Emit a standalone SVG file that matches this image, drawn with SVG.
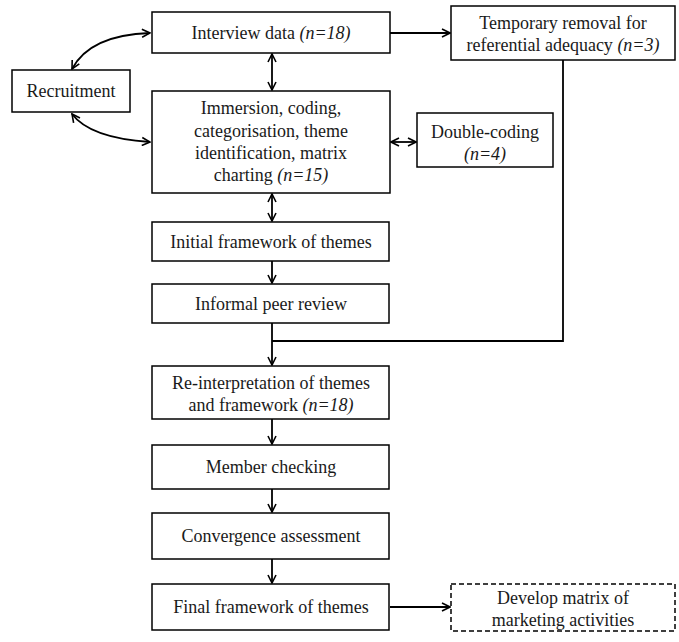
<svg xmlns="http://www.w3.org/2000/svg" width="679" height="642" viewBox="0 0 679 642">
<style>
.box{fill:#fff;stroke:#000;stroke-width:1.5}
.dash{fill:#fff;stroke:#000;stroke-width:1.5;stroke-dasharray:5 3}
text{font-family:"Liberation Serif","Times New Roman",serif;font-size:18px;fill:#1a1a1a;text-anchor:middle}
.i{font-style:italic}
.c{fill:none;stroke:#000;stroke-width:1.8}
</style>
<defs>
<marker id="a" viewBox="0 0 10 10" refX="9" refY="5" markerWidth="10" markerHeight="10" markerUnits="userSpaceOnUse" orient="auto-start-reverse">
<path d="M1,1 L9,5 L1,9" fill="none" stroke="#000" stroke-width="1.6"/>
</marker>
</defs>
<g id="connectors">
<path class="c" d="M72,69 Q90,35 150,33" marker-start="url(#a)" marker-end="url(#a)"/>
<path class="c" d="M72,114 Q90,138 150,142" marker-start="url(#a)" marker-end="url(#a)"/>
<path class="c" d="M390,33 H450" marker-end="url(#a)"/>
<path class="c" d="M272,54 V90" marker-start="url(#a)" marker-end="url(#a)"/>
<path class="c" d="M391,142 H416" marker-start="url(#a)" marker-end="url(#a)"/>
<path class="c" d="M272,194 V221" marker-start="url(#a)" marker-end="url(#a)"/>
<path class="c" d="M272,261 V283" marker-end="url(#a)"/>
<path class="c" d="M272,323 V365" marker-end="url(#a)"/>
<path class="c" d="M563,60 V341 H272"/>
<path class="c" d="M272,419 V444" marker-end="url(#a)"/>
<path class="c" d="M272,489 V512" marker-end="url(#a)"/>
<path class="c" d="M272,559 V583" marker-end="url(#a)"/>
<path class="c" d="M390,607 H450" marker-end="url(#a)"/>
</g>
<g id="interview"><rect class="box" x="152" y="12" width="238" height="41"/><text x="271" y="39">Interview data <tspan class="i">(n=18)</tspan></text></g>
<g id="recruitment"><rect class="box" x="12" y="70" width="118" height="42"/><text x="71" y="97">Recruitment</text></g>
<g id="temporary"><rect class="box" x="451" y="6" width="224" height="54"/><text x="563" y="29">Temporary removal for</text><text x="563" y="51">referential adequacy <tspan class="i">(n=3)</tspan></text></g>
<g id="immersion"><rect class="box" x="152" y="91" width="238" height="102"/><text x="271" y="114">Immersion, coding,</text><text x="271" y="137">categorisation, theme</text><text x="271" y="159">identification, matrix</text><text x="271" y="181">charting <tspan class="i">(n=15)</tspan></text></g>
<g id="double"><rect class="box" x="417" y="113" width="136" height="54"/><text x="485" y="138">Double-coding</text><text x="485" y="160" class="i">(n=4)</text></g>
<g id="initial"><rect class="box" x="152" y="222" width="237" height="39"/><text x="271" y="248">Initial framework of themes</text></g>
<g id="informal"><rect class="box" x="152" y="284" width="237" height="39"/><text x="271" y="310">Informal peer review</text></g>
<g id="reinterp"><rect class="box" x="152" y="366" width="237" height="53"/><text x="271" y="389">Re-interpretation of themes</text><text x="271" y="411">and framework <tspan class="i">(n=18)</tspan></text></g>
<g id="member"><rect class="box" x="152" y="445" width="237" height="44"/><text x="271" y="473">Member checking</text></g>
<g id="convergence"><rect class="box" x="152" y="513" width="237" height="46"/><text x="271" y="542">Convergence assessment</text></g>
<g id="final"><rect class="box" x="152" y="584" width="237" height="46"/><text x="271" y="613">Final framework of themes</text></g>
<g id="develop"><rect class="dash" x="451" y="584" width="224" height="47"/><text x="563" y="604">Develop matrix of</text><text x="563" y="626">marketing activities</text></g>
</svg>
